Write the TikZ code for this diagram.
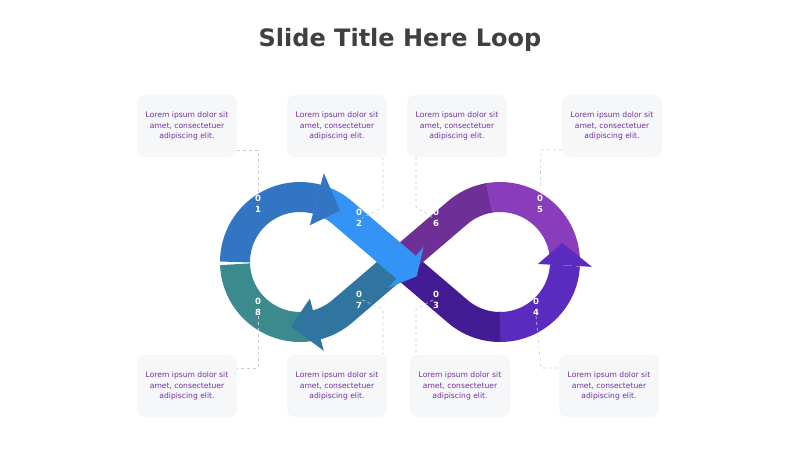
\documentclass[tikz,border=0pt]{standalone}
\usepackage{fontspec}
\setmainfont{DejaVu Sans}
\usetikzlibrary{calc}
\definecolor{c1}{HTML}{3276C3}\definecolor{c2}{HTML}{3394F5}
\definecolor{c3}{HTML}{431C94}\definecolor{c4}{HTML}{5B2ABE}
\definecolor{c5}{HTML}{8A3DBB}\definecolor{c6}{HTML}{6E3096}
\definecolor{c7}{HTML}{30759F}\definecolor{c8}{HTML}{3A8A8E}
\definecolor{txt}{HTML}{7030A0}\definecolor{boxf}{HTML}{F6F7F9}
\begin{document}
\begin{tikzpicture}[x=1pt,y=1pt,
  band/.style={line width=30pt},
  box/.style={fill=boxf,rounded corners=8pt,minimum width=100pt,minimum height=62pt,inner sep=0pt,align=center,text=txt,font=\fontsize{7.6}{10.5}\selectfont},
  num/.style={text=white,font=\bfseries\fontsize{8.5}{11}\selectfont,align=center,inner sep=0pt},
  conn/.style={draw=black!20,dashed,line width=0.6pt}]
\useasboundingbox (0,0) rectangle (800,450);
\coordinate (C1) at (300,188); \coordinate (C2) at (500,188); \coordinate (O) at (400,188);
\coordinate (T1u) at ($(C1)+(49.46:65)$); \coordinate (T1d) at ($(C1)+(-49.46:65)$);
\coordinate (T2u) at ($(C2)+(130.54:65)$); \coordinate (T2d) at ($(C2)+(229.46:65)$);
\node[font=\bfseries\fontsize{24}{28}\selectfont,text=black!75] (title) at (400,410) {Slide Title Here Loop};
% bodies
\draw[band,c3] (O) -- (T2d) arc[start angle=229.46,end angle=272,radius=65];
\draw[band,c4] ($(C2)+(270:65)$) arc[start angle=270,end angle=357,radius=65];
\draw[band,c5] ($(C2)+(0:65)$) arc[start angle=0,end angle=102,radius=65];
\draw[band,c6] ($(C2)+(100:65)$) arc[start angle=100,end angle=130.54,radius=65] -- ($(O)!-12pt!(T2u)$);
\draw[band,c7] (O) -- (T1d) arc[start angle=-49.46,end angle=-78,radius=65];
\draw[band,c8] ($(C1)+(-75:65)$) arc[start angle=-75,end angle=-178,radius=65];
\draw[band,c1] ($(C1)+(180:65)$) arc[start angle=180,end angle=72,radius=65];
\draw[band,c2] ($(C1)+(75:65)$) arc[start angle=75,end angle=49.46,radius=65] -- ($(O)!-8pt!(T1u)$);
% arrowheads
\newcommand\ahead[5]{\fill[#1] ($(#2)+(#3:38)$) -- ($(#2)+(#4:65)$) -- ($(#2)+(#3:92)$) -- cycle;}
\ahead{c1}{C1}{75}{52}
\ahead{c3}{C2}{270}{292}
\ahead{c4}{C2}{-3}{17}
\ahead{c5}{C2}{100}{122}
\ahead{c7}{C1}{-75}{-98}
\ahead{c8}{C1}{-177}{-197}
\fill[c2] ($(O)!-8pt!(T1u)+(49.46:27)$) -- ($(O)!-22pt!(T1u)$) -- ($(O)!-8pt!(T1u)+(229.46:27)$) -- cycle;
% numbers
\node[num] (n1) at (258,246) {0\\1};
\node[num] (n2) at (359,232) {0\\2};
\node[num] (n3) at (436,150) {0\\3};
\node[num] (n4) at (536,143) {0\\4};
\node[num] (n5) at (540,246) {0\\5};
\node[num] (n6) at (436,232) {0\\6};
\node[num] (n7) at (359,150) {0\\7};
\node[num] (n8) at (258,143) {0\\8};
% boxes
\node[box] (b1) at (187,324) {Lorem ipsum dolor sit\\amet, consectetuer\\adipiscing elit.};
\node[box] (b2) at (337,324) {Lorem ipsum dolor sit\\amet, consectetuer\\adipiscing elit.};
\node[box] (b6) at (457,324) {Lorem ipsum dolor sit\\amet, consectetuer\\adipiscing elit.};
\node[box] (b5) at (612,324) {Lorem ipsum dolor sit\\amet, consectetuer\\adipiscing elit.};
\node[box] (b8) at (187,64) {Lorem ipsum dolor sit\\amet, consectetuer\\adipiscing elit.};
\node[box] (b7) at (337,64) {Lorem ipsum dolor sit\\amet, consectetuer\\adipiscing elit.};
\node[box] (b3) at (460,64) {Lorem ipsum dolor sit\\amet, consectetuer\\adipiscing elit.};
\node[box] (b4) at (609,64) {Lorem ipsum dolor sit\\amet, consectetuer\\adipiscing elit.};
% connectors
\begin{scope}[on background layer/.style={}]
\end{scope}
\draw[conn] (b1.east |- 0,300) -- (258,300) -- (n1.north);
\draw[conn] (383,293) -- (383,243) -- (n2.east);
\draw[conn] (416,293) -- (416,243) -- (n6.west);
\draw[conn] (b5.west |- 0,300) -- (541,300) -- (n5.north);
\draw[conn] (n8.south) -- (258,82) -- (b8.east |- 0,82);
\draw[conn] (n7.east) -- (383,141) -- (383,95);
\draw[conn] (n3.west) -- (416,141) -- (416,95);
\draw[conn] (n4.south) -- (541,82) -- (b4.west |- 0,82);
\end{tikzpicture}
\end{document}
